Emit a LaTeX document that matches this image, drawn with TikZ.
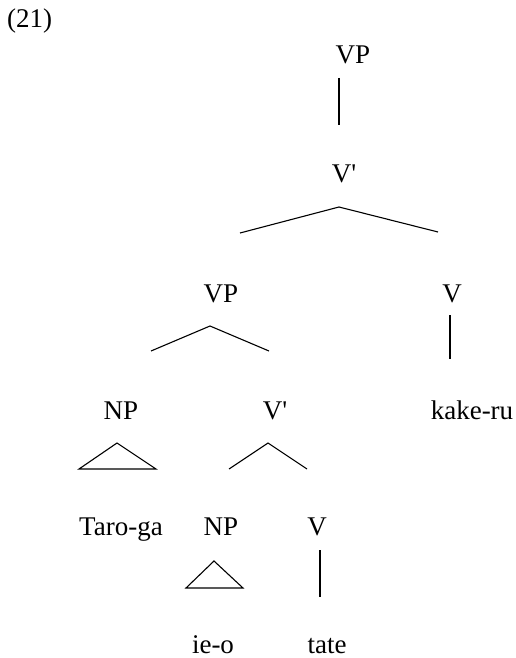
\documentclass[tikz,border=0pt]{standalone}
\usepackage{fontspec}
\setmainfont{Liberation Serif}
\begin{document}
\begin{tikzpicture}[x=1pt,y=-1pt,
  lab/.style={anchor=base,inner sep=0pt,font=\fontsize{27}{31}\selectfont},
  edge/.style={line width=1.1pt,line join=miter}]
\useasboundingbox (0,0) rectangle (516,658);
% labels
\node[lab,anchor=base west] (ex) at (7,28) {(21)};
\node[lab] (vp1) at (353,64) {VP};
\node[lab] (vbar1) at (344,182) {V\textquotesingle};
\node[lab] (vp2) at (221,302) {VP};
\node[lab] (v1) at (452,302) {V};
\node[lab] (np1) at (121,419) {NP};
\node[lab] (vbar2) at (275,419) {V\textquotesingle};
\node[lab] (kakeru) at (472,419) {kake-ru};
\node[lab] (taroga) at (121,535) {Taro-ga};
\node[lab] (np2) at (221,535) {NP};
\node[lab] (v2) at (317,535) {V};
\node[lab] (ieo) at (213,653) {ie-o};
\node[lab] (tate) at (327,653) {tate};
% connector points
\coordinate (a1) at (339,78);  \coordinate (b1) at (339,125);
\coordinate (a2) at (339,207); \coordinate (l2) at (240,233); \coordinate (r2) at (438,232);
\coordinate (a3) at (210,326); \coordinate (l3) at (151,351); \coordinate (r3) at (269,351);
\coordinate (a4) at (450,315); \coordinate (b4) at (450,359);
\coordinate (a5) at (117,443); \coordinate (l5) at (79,469);  \coordinate (r5) at (156,469);
\coordinate (a6) at (268,443); \coordinate (l6) at (229,469); \coordinate (r6) at (307,469);
\coordinate (a7) at (214,561); \coordinate (l7) at (186,588); \coordinate (r7) at (243,588);
\coordinate (a8) at (320,550); \coordinate (b8) at (320,597);
% connectors
\draw[edge] (a1) -- (b1);
\draw[edge] (l2) -- (a2) -- (r2);
\draw[edge] (l3) -- (a3) -- (r3);
\draw[edge] (a4) -- (b4);
\draw[edge] (l5) -- (a5) -- (r5) -- cycle;
\draw[edge] (l6) -- (a6) -- (r6);
\draw[edge] (l7) -- (a7) -- (r7) -- cycle;
\draw[edge] (a8) -- (b8);
\end{tikzpicture}
\end{document}
